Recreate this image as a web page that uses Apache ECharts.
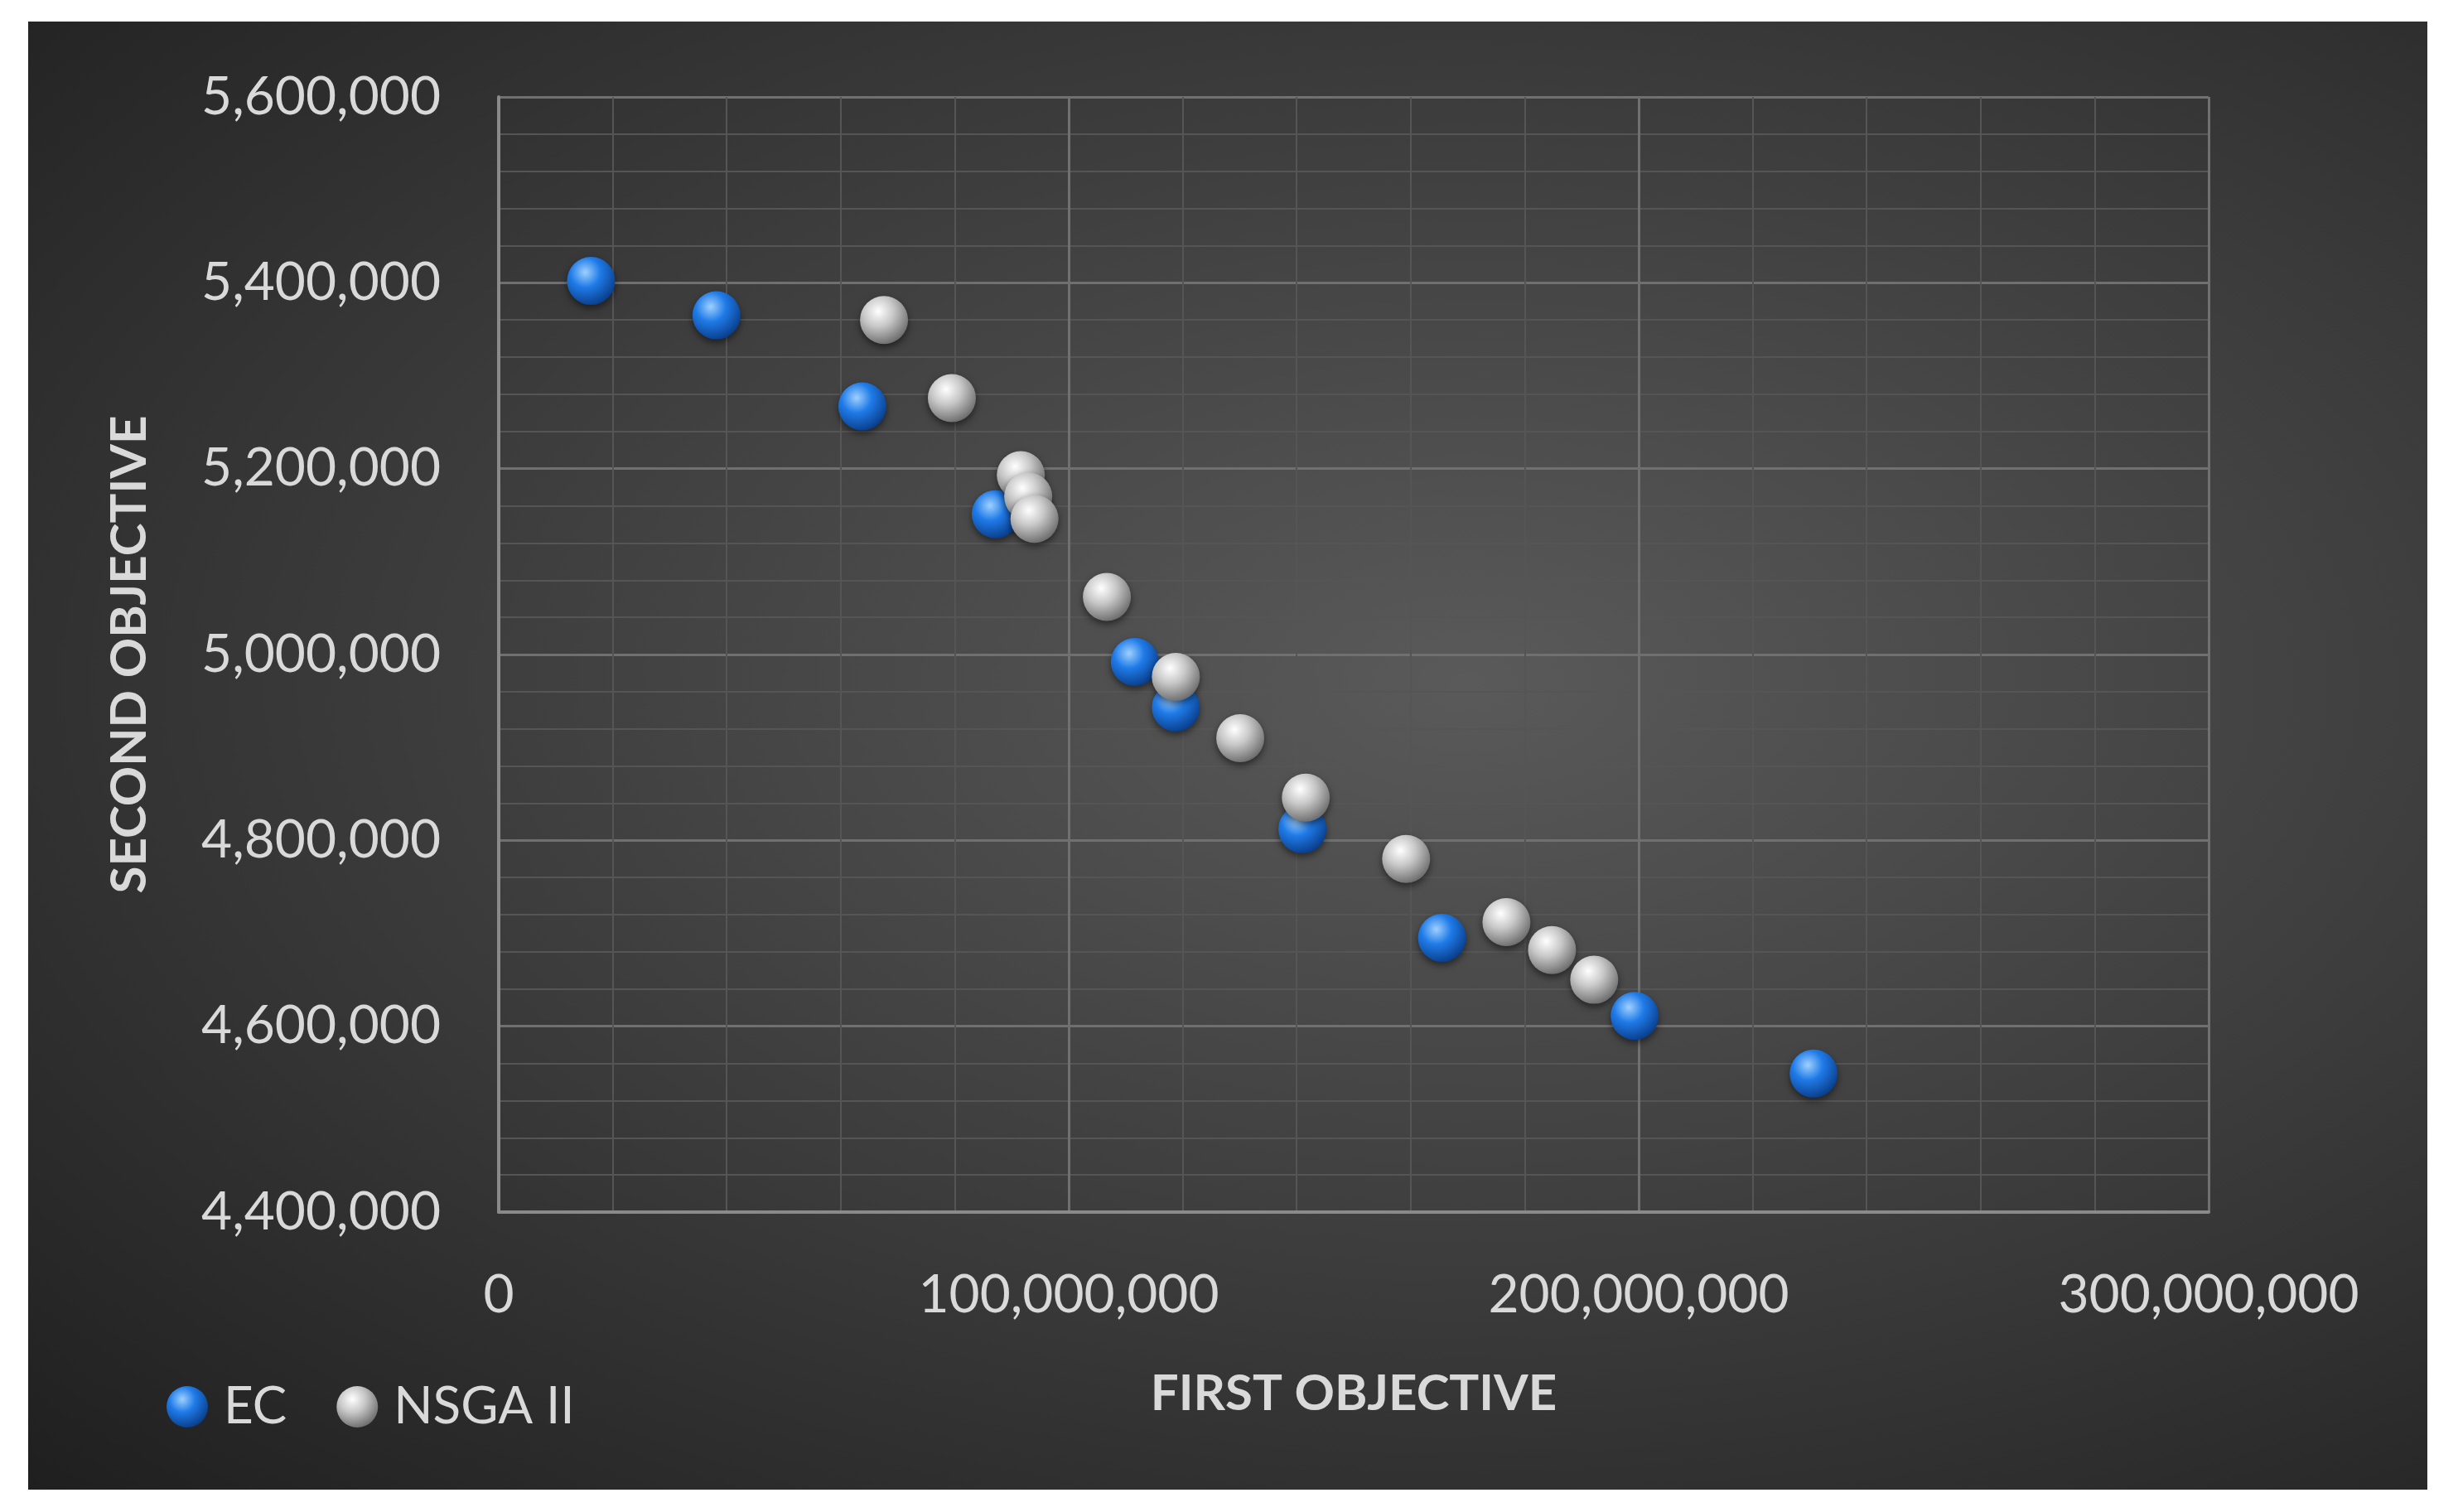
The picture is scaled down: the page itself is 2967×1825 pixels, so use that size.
<!DOCTYPE html>
<html>
<head>
<meta charset="utf-8">
<script src="https://cdn.jsdelivr.net/npm/echarts@6/dist/echarts.min.js"></script>
<style>
html,body{margin:0;padding:0;background:#fff;}
#frame{position:absolute;left:34px;top:26px;width:2896px;height:1772px;
 background:radial-gradient(ellipse at 60% 45%, #5a5a5a 0%, #3a3a3a 55%, #1f1f1f 100%);}
#main{position:absolute;left:0;top:0;width:2967px;height:1825px;}
</style>
</head>
<body>
<div id="frame"></div>
<div id="main"></div>
<script>
// EC series: [first objective, second objective]
var ecFirst  = [16.2e6, 38.2e6, 63.8e6, 87.2e6, 111.6e6, 118.8e6, 141.0e6, 165.5e6, 199.3e6, 230.7e6];
var ecSecond = [5402000, 5365000, 5267000, 5151000, 4992000, 4943000, 4812000, 4695000, 4611000, 4549000];
// NSGA II series
var nsFirst  = [67.6e6, 79.5e6, 91.6e6, 92.9e6, 94.0e6, 106.7e6, 118.8e6, 130.1e6, 141.6e6, 159.2e6, 176.8e6, 184.8e6, 192.2e6];
var nsSecond = [5360000, 5276000, 5193000, 5170000, 5146000, 5062000, 4976000, 4910000, 4846000, 4780000, 4712000, 4682000, 4650000];

function pairs(a, b){
	var out = [];
	for(var i = 0; i < a.length; i++){ out.push([a[i], b[i]]); }
	return out;
}
function ball(c1, c2, c3){
	return new echarts.graphic.RadialGradient(0.38, 0.32, 0.7, [
		{offset:0, color:c1},{offset:0.45, color:c2},{offset:1, color:c3}]);
}
var fmt = function(v){ return v.toLocaleString('en-US'); };
var font = 'Lato, "Open Sans", sans-serif';

var myChart = echarts.init(document.getElementById('main'));
var option = {
	backgroundColor: 'transparent',
	textStyle: {fontFamily: font},
	grid: {left: 602, right: 301, top: 117, bottom: 362},
	legend: {
		left: 196, top: 1662, itemWidth: 50, itemHeight: 50, itemGap: 60,
		textStyle: {color: '#d9d9d9', fontSize: 62, fontFamily: font, padding: [0, 0, 0, 14]},
		data: ['EC', 'NSGA II']
	},
	xAxis: {
		type: 'value', min: 0, max: 300000000, interval: 100000000,
		name: 'FIRST OBJECTIVE', nameLocation: 'middle', nameGap: 190,
		nameTextStyle: {color: '#d9d9d9', fontSize: 60, fontWeight: 'bold'},
		axisLine: {show: true, lineStyle: {color: '#8a8a8a', width: 4}},
		axisTick: {show: false},
		axisLabel: {color: '#d9d9d9', fontSize: 64, margin: 68, formatter: fmt},
		splitLine: {lineStyle: {color: '#707070', width: 3}},
		minorTick: {show: false, splitNumber: 5},
		minorSplitLine: {show: true, lineStyle: {color: '#555555', width: 2}}
	},
	yAxis: {
		type: 'value', min: 4400000, max: 5600000, interval: 200000,
		name: 'SECOND OBJECTIVE', nameLocation: 'middle', nameGap: 415,
		nameTextStyle: {color: '#d9d9d9', fontSize: 60, fontWeight: 'bold'},
		axisLine: {show: true, lineStyle: {color: '#8a8a8a', width: 4}},
		axisTick: {show: false},
		axisLabel: {color: '#d9d9d9', fontSize: 64, margin: 70, formatter: fmt},
		splitLine: {lineStyle: {color: '#707070', width: 3}},
		minorTick: {show: false, splitNumber: 5},
		minorSplitLine: {show: true, lineStyle: {color: '#555555', width: 2}}
	},
	series: [{
		name: 'EC', type: 'scatter', symbolSize: 58,
		data: pairs(ecFirst, ecSecond),
		itemStyle: {color: ball('#9fd0ff', '#1f7be8', '#0a3f8c'), opacity: 1,
			shadowColor: 'rgba(0,0,0,0.5)', shadowBlur: 8, shadowOffsetY: 4}
	},{
		name: 'NSGA II', type: 'scatter', symbolSize: 58,
		data: pairs(nsFirst, nsSecond),
		itemStyle: {color: ball('#ffffff', '#c8c8c8', '#6f6f6f'), opacity: 1,
			shadowColor: 'rgba(0,0,0,0.5)', shadowBlur: 8, shadowOffsetY: 4}
	}]
};
myChart.setOption(option);
</script>
</body>
</html>
